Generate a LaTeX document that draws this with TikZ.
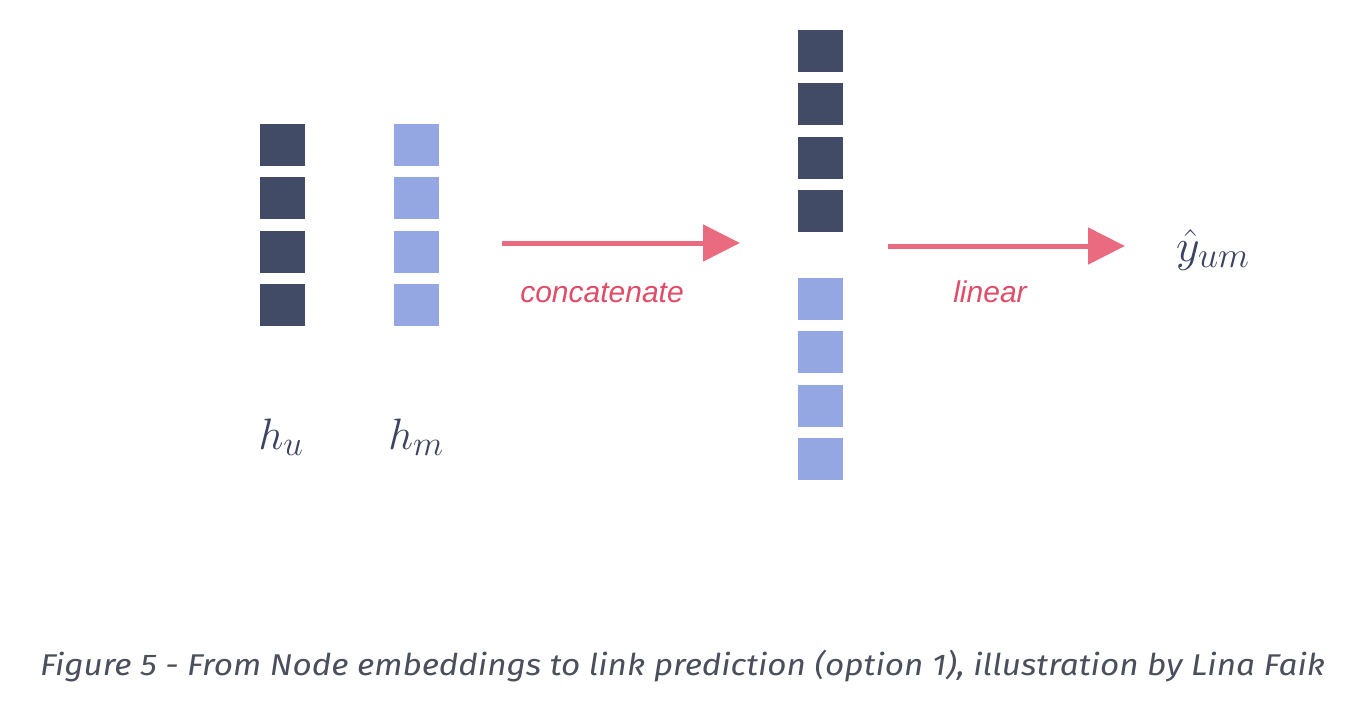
\RequirePackage{fix-cm}
\documentclass[tikz,border=0pt]{standalone}
\usepackage{fontspec}
\usetikzlibrary{arrows.meta}
\DeclareMathSizes{44}{44}{35}{28}
\DeclareMathSizes{46}{46}{36}{29}
\newfontfamily\lblfont{Liberation Sans}
\newfontfamily\capfont{Fira Sans}
\definecolor{navy}{HTML}{414B66}
\definecolor{peri}{HTML}{94A7E3}
\definecolor{arrowred}{HTML}{EA6A80}
\definecolor{labelred}{HTML}{E04D68}
\definecolor{mathink}{HTML}{3B4462}
\definecolor{capgrey}{HTML}{4A4F5C}
\tikzset{
  cell/.style={rectangle, inner sep=0pt, minimum width=45pt, minimum height=42pt},
  dcell/.style={cell, fill=navy},
  lcell/.style={cell, fill=peri},
  flow/.style={draw=arrowred, line width=5pt, -{Triangle[length=37pt,width=36pt]}},
  oplabel/.style={text=labelred, font=\lblfont\itshape\fontsize{30}{34}\selectfont, anchor=base},
  mathlabel/.style={text=mathink, font=\fontsize{44}{50}\selectfont, anchor=base, inner sep=0pt},
}
\begin{document}
\begin{tikzpicture}[x=1pt,y=-1pt]
\useasboundingbox (0,0) rectangle (1364,710);
\fill[white] (0,0) rectangle (1364,710);
% h_u column
\node[dcell] (u1) at (282.5,144.5) {};
\node[dcell] (u2) at (282.5,198) {};
\node[dcell] (u3) at (282.5,252) {};
\node[dcell] (u4) at (282.5,304.5) {};
% h_m column
\node[lcell] (m1) at (416.5,144.5) {};
\node[lcell] (m2) at (416.5,198) {};
\node[lcell] (m3) at (416.5,252) {};
\node[lcell] (m4) at (416.5,304.5) {};
% concatenated column
\node[dcell] (c1) at (820.5,51) {};
\node[dcell] (c2) at (820.5,104) {};
\node[dcell] (c3) at (820.5,158) {};
\node[dcell] (c4) at (820.5,211) {};
\node[lcell] (c5) at (820.5,299) {};
\node[lcell] (c6) at (820.5,352) {};
\node[lcell] (c7) at (820.5,406) {};
\node[lcell] (c8) at (820.5,459) {};
% labels
\node[mathlabel] (hu) at (281,449) {$h_u$};
\node[mathlabel] (hm) at (416,449) {$h_m$};
\node[mathlabel, anchor=base west, font=\fontsize{46}{52}\selectfont] (y) at (1176,261) {$\hat{y}_{um}$};
% arrows
\coordinate (a1s) at (502,243);
\coordinate (a1e) at (740,243);
\coordinate (a2s) at (888,246);
\coordinate (a2e) at (1125,246);
\draw[flow] (a1s) -- (a1e);
\draw[flow] (a2s) -- (a2e);
\node[oplabel] (cat) at (602,302) {concatenate};
\node[oplabel] (lin) at (990,302) {linear};
% caption
\node[text=capgrey, anchor=base] (cap) at (682.5,675)
  {\resizebox{1285pt}{\height}{\capfont\itshape\fontsize{30}{34}\selectfont Figure 5 - From Node embeddings to link prediction (option 1), illustration by Lina Faik}};
\end{tikzpicture}
\end{document}
